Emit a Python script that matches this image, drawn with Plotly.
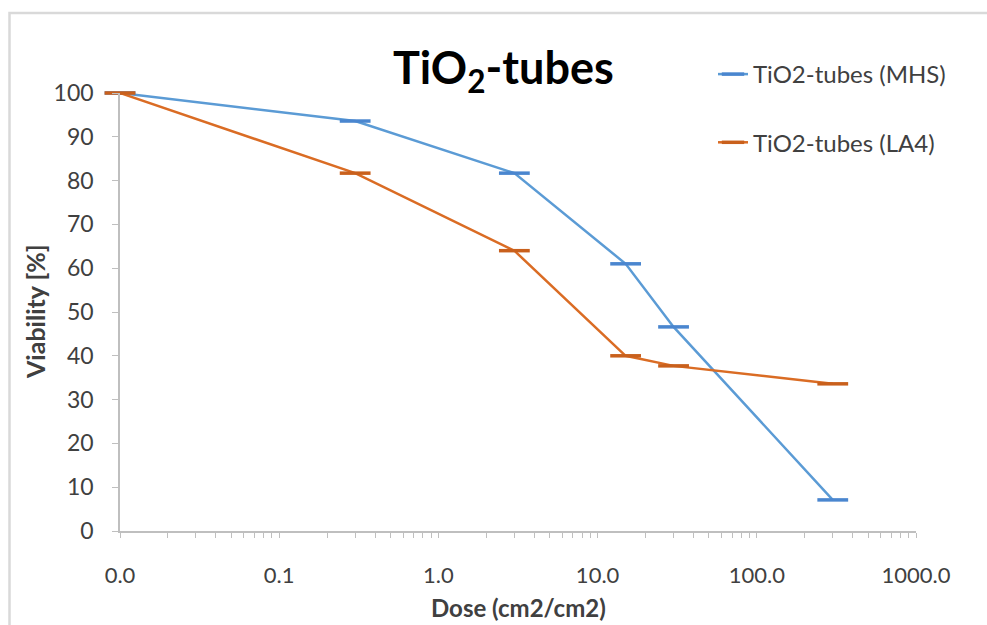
import plotly.graph_objects as go

dose = [0.01, 0.3, 3, 15, 30, 300]
mhs = [100, 93.6, 81.7, 61.0, 46.6, 7.1]
la4 = [100, 81.7, 64.0, 40.0, 37.7, 33.6]
x_major = [0.01, 0.1, 1, 10, 100, 1000]
x_major_text = ["0.0", "0.1", "1.0", "10.0", "100.0", "1000.0"]
y_ticks = [0, 10, 20, 30, 40, 50, 60, 70, 80, 90, 100]

FONT = "Lato"
W, H = 987, 625
ml, mr, mt, mb = 120, 71, 93, 94
pw, ph = W - ml - mr, H - mt - mb

# minor tick positions (2..9 within each decade)
minor_vals = [d * m for d in x_major[:-1] for m in range(2, 10)]

fig = go.Figure()
fig.add_trace(go.Scatter(
    x=dose, y=mhs, name="TiO2-tubes (MHS)", mode="lines+markers",
    line=dict(color="#5B9BD5", width=2.5),
    marker=dict(symbol="line-ew", size=22, color="#4A86CF",
                line=dict(color="#4A86CF", width=3.5)),
    legendgroup="a", cliponaxis=False))
fig.add_trace(go.Scatter(
    x=dose, y=la4, name="TiO2-tubes (LA4)", mode="lines+markers",
    line=dict(color="#DA6C24", width=2.5),
    marker=dict(symbol="line-ew", size=22, color="#C9601C",
                line=dict(color="#C9601C", width=3.5)),
    legendgroup="b", cliponaxis=False))

fig.update_layout(
    width=W, height=H,
    margin=dict(l=ml, r=mr, t=mt, b=mb),
    paper_bgcolor="white", plot_bgcolor="white",
    font=dict(family=FONT, size=18, color="#404040"),
    showlegend=True,
    legend=dict(x=(713 - ml) / pw, y=(mt + ph - 52) / ph, xanchor="left", yanchor="top",
                font=dict(family=FONT, size=24, color="#404040"),
                tracegroupgap=34, bgcolor="rgba(0,0,0,0)"),
    xaxis=dict(type="log", range=[-2, 3], tickvals=x_major, ticktext=x_major_text,
               showgrid=False, zeroline=False, showline=True, linecolor="#BFBFBF",
               linewidth=1.5, ticks="outside", ticklen=5, tickcolor="#BFBFBF",
               ticklabelstandoff=19,
               minor=dict(tickvals=minor_vals, ticks="outside", ticklen=5,
                          tickcolor="#BFBFBF", showgrid=False),
               tickfont=dict(family=FONT, size=22, color="#404040")),
    yaxis=dict(range=[0, 100], tickvals=y_ticks, showgrid=False, zeroline=False,
               showline=True, linecolor="#BFBFBF", linewidth=1.5, ticks="outside",
               ticklen=6, tickcolor="#BFBFBF", ticklabelstandoff=14,
               tickfont=dict(family=FONT, size=23, color="#404040")),
    annotations=[
        dict(text="<b>TiO<sub>2</sub>-tubes</b>", x=(503 - ml) / pw, y=(mt + ph - 70) / ph,
             xref="paper", yref="paper", showarrow=False,
             font=dict(family=FONT, size=45, color="#000000"), xanchor="center", yanchor="middle"),
        dict(text="<b>Dose (cm2/cm2)</b>", x=0.5, y=(mt + ph - 607) / ph,
             xref="paper", yref="paper", showarrow=False,
             font=dict(family=FONT, size=24, color="#404040"), xanchor="center", yanchor="middle"),
        dict(text="<b>Viability [%]</b>", x=(35 - ml) / pw, y=0.5, textangle=-90,
             xref="paper", yref="paper", showarrow=False,
             font=dict(family=FONT, size=25, color="#404040"), xanchor="center", yanchor="middle"),
    ],
    shapes=[dict(type="rect", xref="paper", yref="paper",
                 x0=(9.5 - ml) / pw, x1=1.3, y0=-0.4, y1=(mt + ph - 13) / ph,
                 line=dict(color="#D9D9D9", width=2.5), layer="below")],
)

fig.write_html("out.html")
